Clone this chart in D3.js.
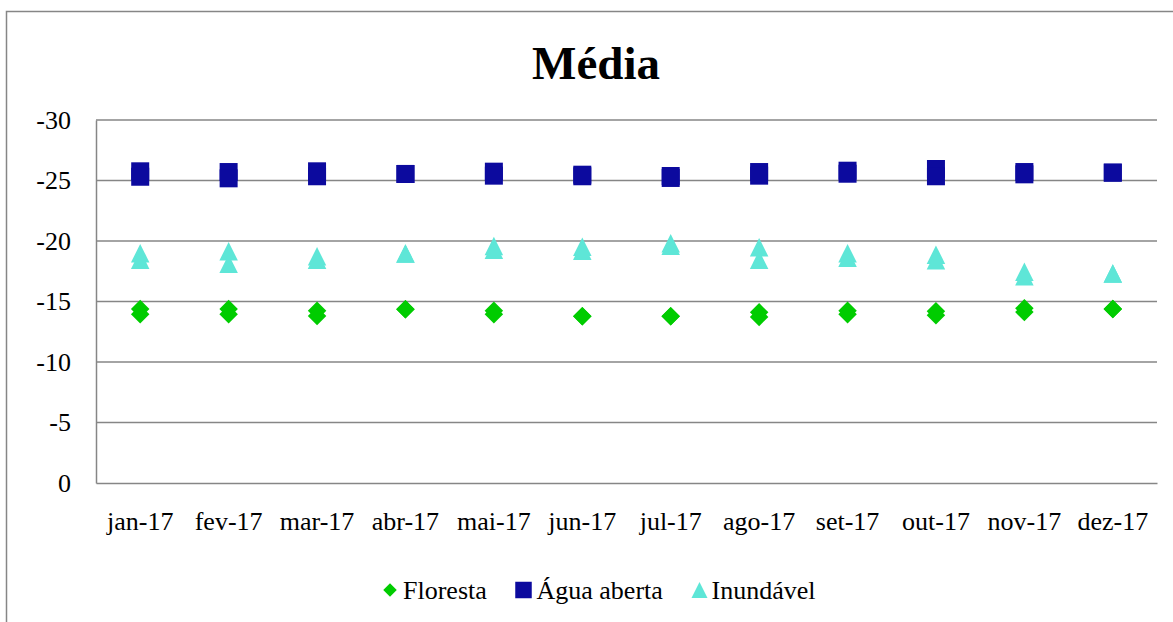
<!DOCTYPE html>
<html>
<head>
<meta charset="utf-8">
<script src="https://cdn.jsdelivr.net/npm/d3@7"></script>
<style>
  html, body { margin: 0; padding: 0; background: #fff; }
  svg { display: block; }
  text { font-family: "Liberation Serif", "Times New Roman", serif; fill: #000; }
</style>
</head>
<body>
<svg id="chart" width="1173" height="622"></svg>
<script>
// ---- data ----
const months = ["jan-17","fev-17","mar-17","abr-17","mai-17","jun-17","jul-17","ago-17","set-17","out-17","nov-17","dez-17"];
const yTicks = [0, -5, -10, -15, -20, -25, -30];
const seriesNames = ["Floresta", "Água aberta", "Inundável"];
// two acquisitions per month (values in dB)
const floresta = [[-14.38,-13.94],[-14.38,-13.94],[-14.24,-13.80],[-14.36,-14.36],[-14.24,-13.94],[-13.78,-13.78],
                  [-13.79,-13.79],[-14.11,-13.72],[-14.24,-13.94],[-14.19,-13.86],[-14.44,-14.13],[-14.39,-14.39]];
const aguaAberta = [[-25.76,-25.31],[-25.70,-25.18],[-25.76,-25.35],[-25.54,-25.54],[-25.73,-25.40],[-25.48,-25.35],
                    [-25.37,-25.21],[-25.70,-25.40],[-25.81,-25.56],[-25.95,-25.35],[-25.70,-25.51],[-25.65,-25.65]];
const inundavel = [[-18.99,-18.46],[-19.15,-18.12],[-18.73,-18.46],[-18.97,-18.97],[-19.59,-19.28],[-19.53,-19.20],
                   [-19.81,-19.61],[-19.48,-18.46],[-18.99,-18.62],[-18.87,-18.40],[-17.46,-17.08],[-17.31,-17.31]];
const colors = ["#00cc00", "#0c0a9e", "#5ee6d7"];

// ---- symbols (size = bounding-box side squared) ----
const diamond = { draw(ctx, size) { const r = Math.sqrt(size) / 2;
  ctx.moveTo(0, -r); ctx.lineTo(r, 0); ctx.lineTo(0, r); ctx.lineTo(-r, 0); ctx.closePath(); } };
const square = { draw(ctx, size) { const r = Math.sqrt(size) / 2;
  ctx.moveTo(-r, -r); ctx.lineTo(r, -r); ctx.lineTo(r, r); ctx.lineTo(-r, r); ctx.closePath(); } };
const triangle = { draw(ctx, size) { const r = Math.sqrt(size) / 2;
  ctx.moveTo(0, -r); ctx.lineTo(r, r); ctx.lineTo(-r, r); ctx.closePath(); } };
const symbols = [diamond, square, triangle];

const svg = d3.select("#chart");
const plot = { left: 96, right: 1157, top: 120, bottom: 483 };

// outer chart border
svg.append("rect").attr("x", 6.5).attr("y", 11.5).attr("width", 1200).attr("height", 700)
  .attr("fill", "none").attr("stroke", "#868686").attr("stroke-width", 1.5);

const x = d3.scaleBand().domain(months).range([plot.left, plot.right]);
const y = d3.scaleLinear().domain([0, -30]).range([plot.bottom, plot.top]);

// gridlines
svg.append("g").selectAll("line").data(yTicks.filter(d => d !== 0)).join("line")
  .attr("x1", plot.left).attr("x2", plot.right)
  .attr("y1", d => y(d)).attr("y2", d => y(d))
  .attr("stroke", "#868686").attr("stroke-width", 1.5);

// y axis
const yAxis = svg.append("g").attr("transform", `translate(${plot.left},0)`)
  .call(d3.axisLeft(y).tickValues(yTicks).tickSize(0).tickPadding(25).tickFormat(d => d === 0 ? "0" : String(d)));
yAxis.select(".domain").attr("stroke", "#868686").attr("stroke-width", 1.5);
yAxis.selectAll("text").style("font-family", '"Liberation Serif", serif').style("font-size", "26px").attr("fill", "#000");

// x axis
const xAxis = svg.append("g").attr("transform", `translate(0,${plot.bottom})`)
  .call(d3.axisBottom(x).tickSize(0).tickPadding(29));
xAxis.select(".domain").attr("stroke", "#868686").attr("stroke-width", 1.5);
xAxis.selectAll("text").style("font-family", '"Liberation Serif", serif').style("font-size", "26px").attr("fill", "#000");

// points
const allSeries = [floresta, aguaAberta, inundavel];
allSeries.forEach((ser, si) => {
  const pts = [];
  ser.forEach((vals, mi) => vals.forEach(v => pts.push({ m: months[mi], v })));
  svg.append("g").selectAll("path").data(pts).join("path")
    .attr("transform", d => `translate(${x(d.m) + x.bandwidth() / 2},${y(d.v)})`)
    .attr("d", d3.symbol().type(symbols[si]).size(si === 1 ? 18 * 18 : 18.5 * 18.5))
    .attr("fill", colors[si]);
});

// title
svg.append("text").attr("x", 596).attr("y", 79).attr("text-anchor", "middle")
  .style("font-size", "47px").style("font-weight", "bold").text("Média");

// legend
const legendItems = [
  { name: seriesNames[0], sx: 390, tx: 403, size: 13.5 },
  { name: seriesNames[1], sx: 523.5, tx: 536.5, size: 16.5 },
  { name: seriesNames[2], sx: 699.5, tx: 711.5, size: 16 }
];
const lg = svg.append("g");
legendItems.forEach((it, i) => {
  lg.append("path").attr("transform", `translate(${it.sx},590)`)
    .attr("d", d3.symbol().type(symbols[i]).size(it.size * it.size)).attr("fill", colors[i]);
  lg.append("text").attr("x", it.tx).attr("y", 598.5).style("font-size", "26px").text(it.name);
});
</script>
</body>
</html>
